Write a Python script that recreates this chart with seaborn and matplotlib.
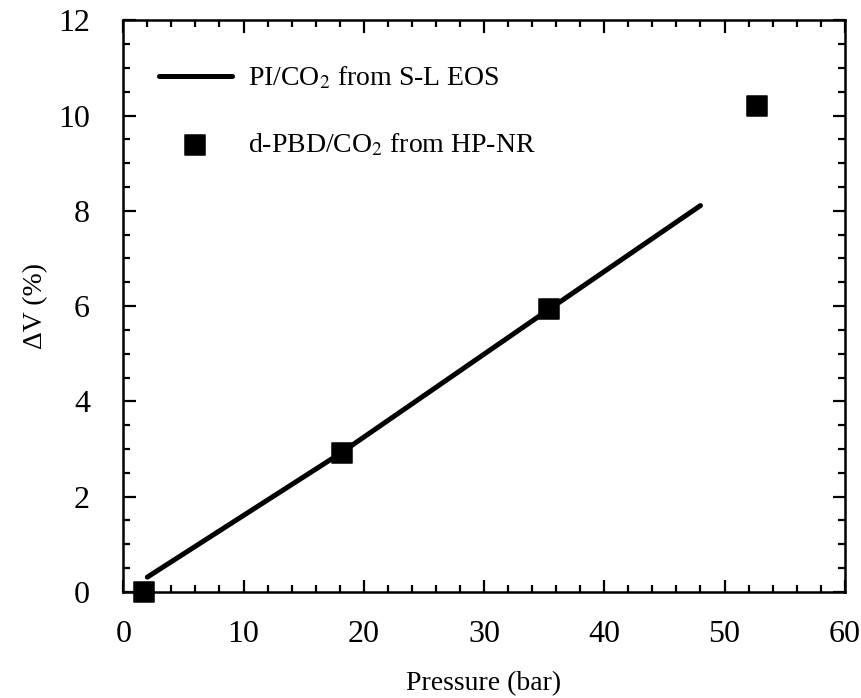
import seaborn as sns
import numpy as np
import matplotlib.pyplot as plt
from matplotlib.ticker import MultipleLocator

# S-L EOS prediction for PI/CO2
eos_p = [2.0, 18.0, 35.4, 48.0]
eos_dv = [0.31, 2.90, 5.93, 8.11]

# HP-NR measurements for d-PBD/CO2
nr_p = [1.75, 18.2, 35.4, 52.7]
nr_dv = [0.0, 2.92, 5.93, 10.2]

sns.set_style("ticks")
plt.rcParams['font.family'] = ['Liberation Serif', 'DejaVu Serif']
plt.rcParams['mathtext.fontset'] = 'stix'
plt.rcParams['text.color'] = 'black'
plt.rcParams['axes.labelcolor'] = 'black'
plt.rcParams['xtick.color'] = 'black'
plt.rcParams['ytick.color'] = 'black'

fig, ax = plt.subplots(figsize=(8.62, 6.98), dpi=100)
fig.subplots_adjust(left=0.143, right=0.980, top=0.971, bottom=0.152)

sns.lineplot(x=eos_p, y=eos_dv, ax=ax, color='black', linewidth=3.6,
             label=r'PI/CO$_2$ from S-L EOS')
sns.scatterplot(x=nr_p, y=nr_dv, ax=ax, color='black', marker='s', s=190,
                edgecolor='black', label=r'd-PBD/CO$_2$ from HP-NR', clip_on=False, zorder=5)

ax.set_xlim(0, 60)
ax.set_ylim(0, 12)
ax.xaxis.set_major_locator(MultipleLocator(10))
ax.xaxis.set_minor_locator(MultipleLocator(2))
ax.yaxis.set_major_locator(MultipleLocator(2))
ax.yaxis.set_minor_locator(MultipleLocator(0.5))
ax.tick_params(which='both', direction='in', top=True, right=True, width=1.6,
               color='black', labelcolor='black')
ax.tick_params(which='major', length=9, labelsize=23)
ax.tick_params(axis='x', which='major', pad=20)
ax.tick_params(axis='y', which='major', pad=24)
ax.tick_params(which='minor', length=5)
for sp in ax.spines.values():
    sp.set_linewidth(1.8)
    sp.set_color('black')

ax.set_xlabel('Pressure (bar)', fontsize=20, labelpad=16)
ax.set_ylabel('ΔV (%)', fontsize=20, labelpad=7)

ax.legend(loc='upper left', frameon=False, fontsize=20, handlelength=2.6,
          handletextpad=0.6, borderaxespad=0.9, labelspacing=1.45,
          bbox_to_anchor=(0.0, 0.985))

fig.savefig('out.png', dpi=100)
